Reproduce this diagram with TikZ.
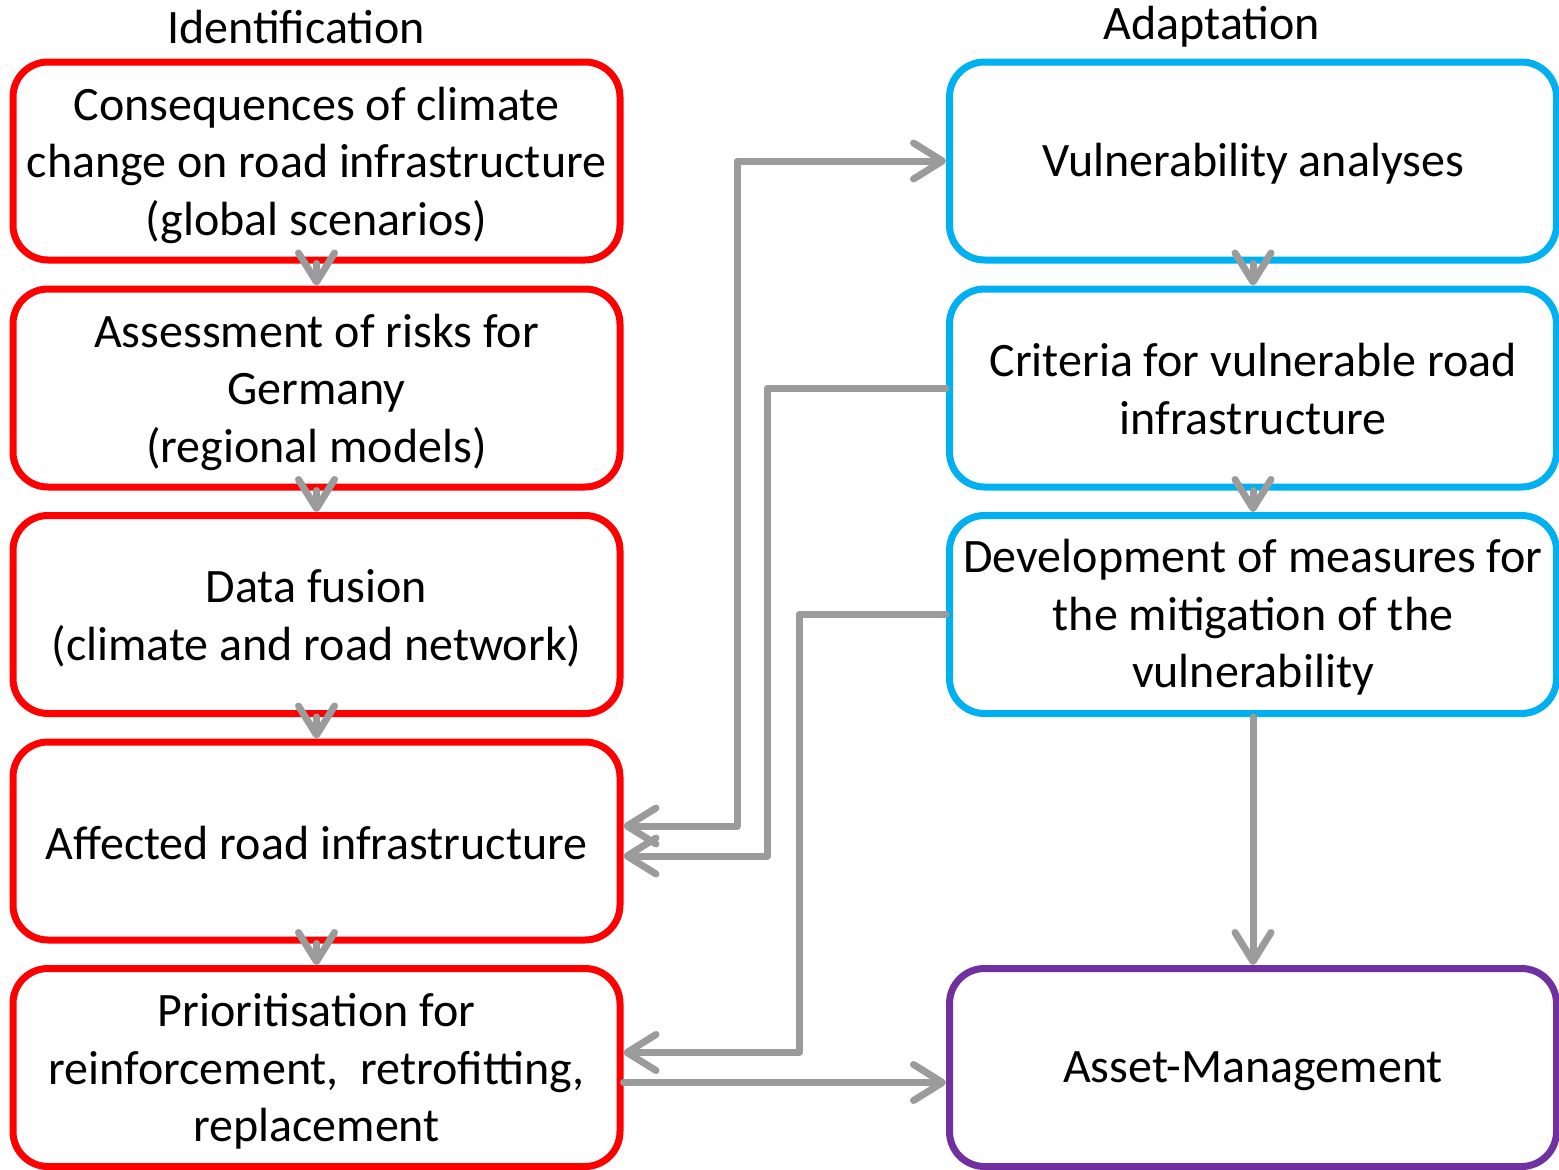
\documentclass[tikz,border=0pt]{standalone}
\usepackage{fontspec}
\setmainfont{Carlito}
\usetikzlibrary{arrows.meta}
\definecolor{boxred}{RGB}{255,0,0}
\definecolor{boxblue}{RGB}{0,176,240}
\definecolor{boxpurple}{RGB}{112,48,160}
\definecolor{conngray}{RGB}{155,155,155}
\tikzset{
  box/.style={draw, line width=7pt, rounded corners=35pt, minimum width=607pt, minimum height=198pt, inner sep=0pt},
  redbox/.style={box, draw=boxred},
  bluebox/.style={box, draw=boxblue},
  purplebox/.style={box, draw=boxpurple},
  txt/.style={align=center, inner sep=0pt, font=\fontsize{48}{57.5}\selectfont},
  tipx/.tip={Straight Barb[length=29pt, width=36pt, round]},
  conn/.style={draw=conngray, line width=7pt, line join=round, line cap=round},
  hdr/.style={font=\fontsize{48}{57.5}\selectfont, inner sep=0pt}
}
\begin{document}
\begin{tikzpicture}[x=1pt, y=-1pt]
\useasboundingbox (0,0) rectangle (1559,1170);
\node[hdr] (h1) at (296,27) {Identification};
\node[hdr] (h2) at (1212,27) {Adaptation};

\node[redbox] (L1) at (316.5,161) {};
\node[redbox] (L2) at (316.5,388) {};
\node[redbox] (L3) at (316.5,614.5) {};
\node[redbox] (L4) at (316.5,841) {};
\node[redbox] (L5) at (316.5,1067.5) {};
\node[bluebox] (R1) at (1253,161) {};
\node[bluebox] (R2) at (1253,388) {};
\node[bluebox] (R3) at (1253,614.5) {};
\node[purplebox] (R4) at (1253,1067.5) {};

\node[txt] (L1t) at ([yshift=-4pt]L1.center) {Consequences of climate\\change on road infrastructure\\(global scenarios)};
\node[txt] (L2t) at ([yshift=-4pt]L2.center) {Assessment of risks for\\Germany\\(regional models)};
\node[txt] (L3t) at ([yshift=-4pt]L3.center) {Data fusion\\(climate and road network)};
\node[txt] (L4t) at ([yshift=-2pt]L4.center) {Affected road infrastructure};
\node[txt] (L5t) at ([yshift=-4pt]L5.center) {Prioritisation for\\reinforcement,\ \ retrofitting,\\replacement};
\node[txt] (R1t) at ([yshift=-3pt]R1.center) {Vulnerability analyses};
\node[txt] (R2t) at ([yshift=-1pt]R2.center) {Criteria for vulnerable road\\infrastructure};
\node[txt] (R3t) at ([yshift=-3pt]R3.center) {Development of measures for\\the mitigation of the\\vulnerability};
\node[txt] (R4t) at ([yshift=-4pt]R4.center) {Asset-Management};

\draw[conn, -tipx] (L1.south) -- (L2.north);
\draw[conn, -tipx] (L2.south) -- (L3.north);
\draw[conn, -tipx] (L3.south) -- (L4.north);
\draw[conn, -tipx] (L4.south) -- (L5.north);
\draw[conn, -tipx] (R1.south) -- (R2.north);
\draw[conn, -tipx] (R2.south) -- (R3.north);
\draw[conn, -tipx] (R3.south) -- (R4.north);

\coordinate (c1) at (737,0);
\coordinate (c2) at (767,0);
\coordinate (c3) at (799,0);
\coordinate (a4u) at ([yshift=15pt]L4.east);
\coordinate (a4d) at ([yshift=-15pt]L4.east);
\coordinate (a5u) at ([yshift=15pt]L5.east);
\coordinate (a5d) at ([yshift=-15pt]L5.east);
\coordinate (b4) at ([yshift=-15pt]R4.west);

\draw[conn, tipx-tipx] (a4u) -| (c1 |- R1.west) -- (R1.west);
\draw[conn, -tipx] (R2.west) -| (c2 |- a4d) -- (a4d);
\draw[conn, -tipx] (R3.west) -| (c3 |- a5u) -- (a5u);
\draw[conn, -tipx] (a5d) -- (b4);
\end{tikzpicture}
\end{document}
